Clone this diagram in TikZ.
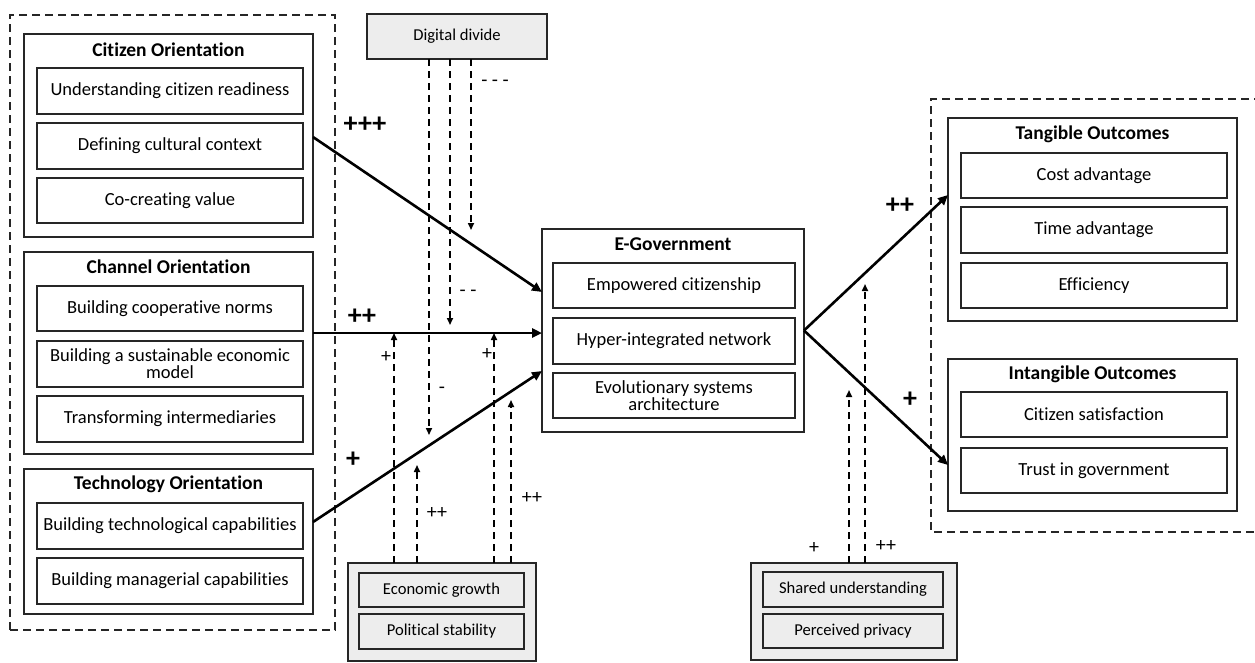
\documentclass[tikz,border=0pt]{standalone}
\usepackage{fontspec}
\setmainfont{Carlito}[Ligatures={NoCommon,NoRequired,NoContextual}]
\usetikzlibrary{arrows.meta}
\newcommand\fmain{\fontsize{18.5}{17}\selectfont}
\newcommand\ftitle{\fontsize{19.5}{20}\selectfont\bfseries}
\newcommand\fsmall{\fontsize{16.6}{17}\selectfont}
\newcommand\fplus{\fontsize{28}{28}\selectfont\bfseries}
\newcommand\flab{\fontsize{20}{22}\selectfont}
\begin{document}
\begin{tikzpicture}[x=1pt,y=-1pt,
  box/.style={draw=black!85, line width=1.2pt, inner sep=0pt, outer sep=0pt, align=center, font=\fmain},
  gbox/.style={box, fill=black!7, font=\fsmall},
  title/.style={inner sep=0pt, font=\ftitle},
  grp/.style={draw=black!85, line width=1.6pt, dash pattern=on 8pt off 5pt, inner sep=0pt, outer sep=0pt},
  mainarrow/.style={draw=black, line width=2.6pt, -{Triangle[length=10pt,width=9pt]}},
  dasharrow/.style={draw=black, line width=1.6pt, dash pattern=on 7pt off 5pt, -{Triangle[length=7pt,width=6pt]}},
  plus/.style={inner sep=0pt, font=\fplus},
  lab/.style={inner sep=0pt, font=\flab}
]
\useasboundingbox (0,0) rectangle (1255,662);

% left group
\node[grp, minimum width=325pt, minimum height=615pt] (leftgrp) at (172.5,322.5) {};

% Citizen Orientation
\node[box, minimum width=289pt, minimum height=203pt] (cit) at (168.5,135.5) {};
\node[title] (citT) at (168.5,50) {Citizen Orientation};
\node[box, minimum width=266pt, minimum height=46pt] (cit1) at (170,91) {Understanding citizen readiness};
\node[box, minimum width=266pt, minimum height=46pt] (cit2) at (170,146) {Defining cultural context};
\node[box, minimum width=266pt, minimum height=45pt] (cit3) at (170,200.5) {Co-creating value};

% Channel Orientation
\node[box, minimum width=289pt, minimum height=202pt] (chan) at (168.5,353) {};
\node[title] (chanT) at (168.5,267) {Channel Orientation};
\node[box, minimum width=266pt, minimum height=45pt] (chan1) at (170,308.5) {Building cooperative norms};
\node[box, minimum width=266pt, minimum height=46pt] (chan2) at (170,364) {Building a sustainable economic\\model};
\node[box, minimum width=266pt, minimum height=46pt] (chan3) at (170,419) {Transforming intermediaries};

% Technology Orientation
\node[box, minimum width=289pt, minimum height=145pt] (tech) at (168.5,541.5) {};
\node[title] (techT) at (168.5,484) {Technology Orientation};
\node[box, minimum width=266pt, minimum height=46pt] (tech1) at (170,526) {Building technological capabilities};
\node[box, minimum width=266pt, minimum height=46pt] (tech2) at (170,581) {Building managerial capabilities};

% Digital divide
\node[gbox, minimum width=180pt, minimum height=45pt] (dd) at (457,36.5) {Digital divide};

% E-Government
\node[box, minimum width=262pt, minimum height=203pt] (egov) at (673,330.5) {};
\node[title] (egovT) at (673,244) {E-Government};
\node[box, minimum width=242pt, minimum height=45pt] (eg1) at (674,285.5) {Empowered citizenship};
\node[box, minimum width=242pt, minimum height=46pt] (eg2) at (674,341) {Hyper-integrated network};
\node[box, minimum width=242pt, minimum height=45pt] (eg3) at (674,395.5) {Evolutionary systems\\architecture};

% Economic box
\node[gbox, minimum width=188pt, minimum height=98pt] (econ) at (442,612) {};
\node[gbox, minimum width=165pt, minimum height=34pt] (econ1) at (441.5,590) {Economic growth};
\node[gbox, minimum width=165pt, minimum height=35pt] (econ2) at (441.5,631.5) {Political stability};

% Shared box
\node[gbox, minimum width=206pt, minimum height=97pt] (shared) at (854,611.5) {};
\node[gbox, minimum width=180pt, minimum height=35pt] (sh1) at (853,589.5) {Shared understanding};
\node[gbox, minimum width=180pt, minimum height=34pt] (sh2) at (853,631) {Perceived privacy};

% right group
\draw[grp] (1262,99) -- (931,99) -- (931,532) -- (1262,532);

% Tangible
\node[box, minimum width=289pt, minimum height=203pt] (tang) at (1092.5,219.5) {};
\node[title] (tangT) at (1092.5,134) {Tangible Outcomes};
\node[box, minimum width=266pt, minimum height=45pt] (tang1) at (1094,175.5) {Cost advantage};
\node[box, minimum width=266pt, minimum height=46pt] (tang2) at (1094,230) {Time advantage};
\node[box, minimum width=266pt, minimum height=45pt] (tang3) at (1094,285.5) {Efficiency};

% Intangible
\node[box, minimum width=289pt, minimum height=152pt] (intang) at (1092.5,435) {};
\node[title] (intangT) at (1092.5,374) {Intangible Outcomes};
\node[box, minimum width=266pt, minimum height=45pt] (int1) at (1094,414.5) {Citizen satisfaction};
\node[box, minimum width=266pt, minimum height=45pt] (int2) at (1094,470.5) {Trust in government};

% main arrows
\draw[mainarrow] ([yshift=-1.5pt]cit.east) -- ([yshift=38.5pt]egov.west);
\coordinate (chanOut) at ([yshift=20pt]chan.east);
\draw[mainarrow] (chanOut) -- (chanOut -| egov.west);
\draw[mainarrow] ([yshift=19.5pt]tech.east) -- ([yshift=-40.5pt]egov.west);
\draw[mainarrow] (egov.east) -- ([yshift=24.5pt]tang.west);
\draw[mainarrow] (egov.east) -- ([yshift=-30pt]intang.west);

% digital divide dashed arrows
\coordinate (d1) at (429,435);
\coordinate (d2) at (450,325);
\coordinate (d3) at (471,230);
\draw[dasharrow] (dd.south -| d1) -- (d1);
\draw[dasharrow] (dd.south -| d2) -- (d2);
\draw[dasharrow] (dd.south -| d3) -- (d3);

% economic dashed arrows
\coordinate (e1) at (394,333);
\coordinate (e2) at (417,465);
\coordinate (e3) at (494,333);
\coordinate (e4) at (511,400);
\draw[dasharrow] (econ.north -| e1) -- (e1);
\draw[dasharrow] (econ.north -| e2) -- (e2);
\draw[dasharrow] (econ.north -| e3) -- (e3);
\draw[dasharrow] (econ.north -| e4) -- (e4);

% shared dashed arrows
\coordinate (s1) at (849,390);
\coordinate (s2) at (865,284);
\draw[dasharrow] (shared.north -| s1) -- (s1);
\draw[dasharrow] (shared.north -| s2) -- (s2);

% labels
\node[plus] (l1) at (365,125) {+++};
\node[plus] (l2) at (362,317) {++};
\node[plus] (l3) at (353,460) {+};
\node[plus] (l4) at (900,206) {++};
\node[plus] (l5) at (910,400) {+};

\node[lab] (m1) at (495,83) {- - -};
\node[lab] (m2) at (468,293) {- -};
\node[lab] (m3) at (442,390) {-};
\node[lab] (p1) at (386,357) {+};
\node[lab] (p2) at (487,354) {+};
\node[lab] (p3) at (437,513) {++};
\node[lab] (p4) at (532,498) {++};
\node[lab] (p5) at (814,548) {+};
\node[lab] (p6) at (886,546) {++};
\end{tikzpicture}
\end{document}
